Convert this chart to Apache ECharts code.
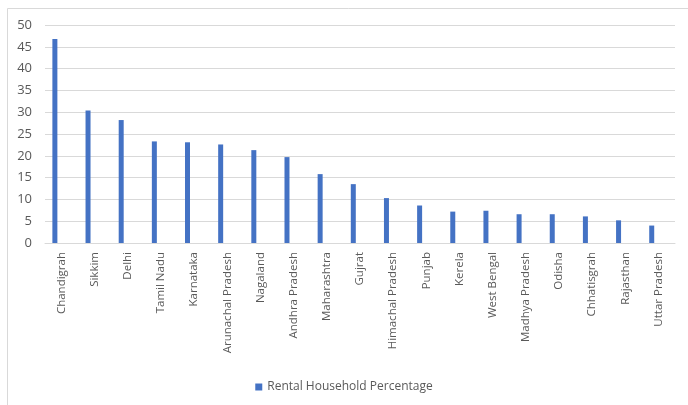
<!DOCTYPE html>
<html>
<head>
<meta charset="utf-8">
<script src="https://cdn.jsdelivr.net/npm/echarts@6/dist/echarts.min.js"></script>
<style>
html,body{margin:0;padding:0;background:#fff;}
#chart{width:688px;height:405px;}
</style>
</head>
<body>
<div id="chart"></div>
<script>
var categories = ["Chandigrah","Sikkim","Delhi","Tamil Nadu","Karnataka","Arunachal Pradesh","Nagaland","Andhra Pradesh","Maharashtra","Gujrat","Himachal Pradesh","Punjab","Kerela","West Bengal","Madhya Pradesh","Odisha","Chhatisgrah","Rajasthan","Uttar Pradesh"];
var rentalPct = [46.8,30.4,28.2,23.3,23.1,22.6,21.3,19.7,15.8,13.5,10.3,8.6,7.2,7.4,6.6,6.6,6.1,5.2,4.0];
var emptySeries = categories.map(function(){ return null; });
var yTicks = {min:0, max:50, interval:5};

var chart = echarts.init(document.getElementById('chart'));
chart.setOption({
  animation:false,
  backgroundColor:'#fff',
  graphic:[{type:'rect', shape:{x:7.5,y:8.5,width:720,height:440}, style:{fill:'none', stroke:'#d9d9d9', lineWidth:1}, silent:true}],
  grid:{left:45, right:13, top:25, bottom:162, containLabel:false},
  legend:{data:['Rental Household Percentage'], top:376, left:'center', icon:'rect', itemWidth:7, itemHeight:7, itemGap:5,
    textStyle:{color:'#595959', fontSize:12, fontFamily:'Open Sans'}},
  xAxis:{type:'category', data:categories, boundaryGap:true,
    axisLine:{lineStyle:{color:'#d9d9d9'}}, axisTick:{show:false},
    axisLabel:{interval:0, rotate:90, margin:9, color:'#595959', fontSize:11.5, fontFamily:'Open Sans'}},
  yAxis:{type:'value', min:yTicks.min, max:yTicks.max, interval:yTicks.interval,
    axisLine:{show:false}, axisTick:{show:false},
    splitLine:{lineStyle:{color:'#d9d9d9'}},
    axisLabel:{margin:13, color:'#595959', fontSize:13, fontFamily:'Open Sans'}},
  series:[
    {name:'Rental Household Percentage', type:'bar', data:rentalPct, barWidth:5, barGap:'168%', itemStyle:{color:'#4472C4'}},
    {name:'_blank', type:'bar', data:emptySeries, barWidth:5, silent:true, itemStyle:{color:'transparent'}}
  ]
});
</script>
</body>
</html>
